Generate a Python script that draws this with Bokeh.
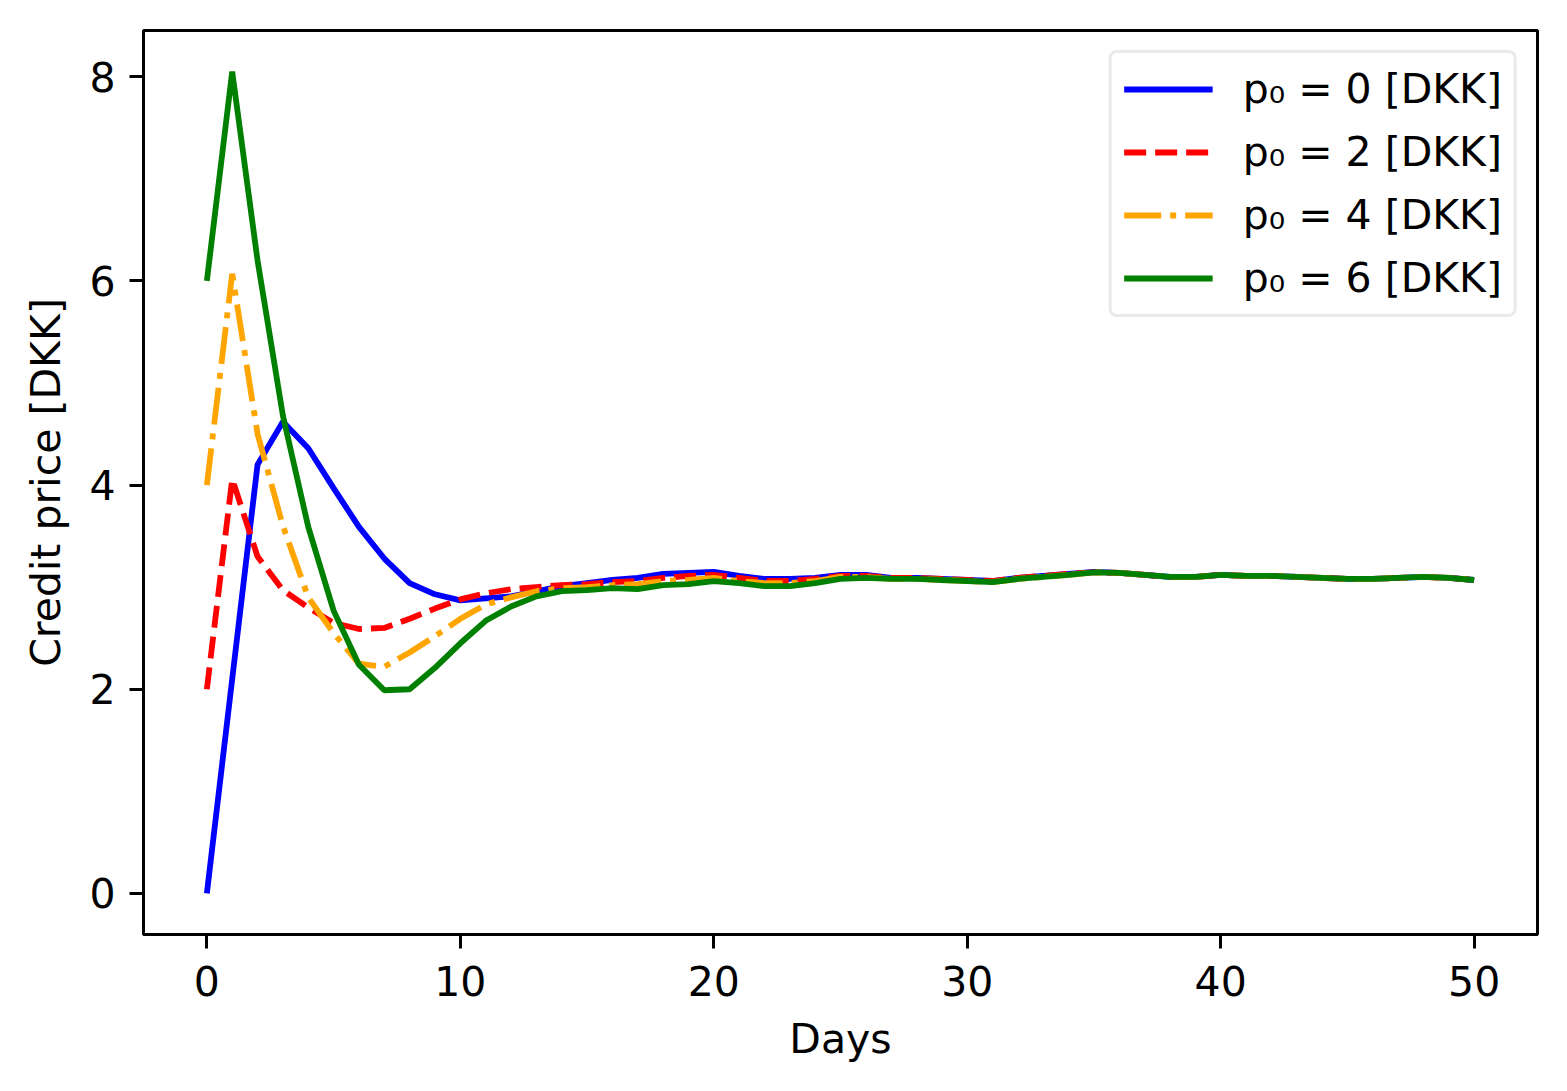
from bokeh.plotting import figure
from bokeh.models import Range1d, FixedTicker, Legend, LegendItem
from bokeh.embed import file_html
from bokeh.resources import INLINE

days = list(range(51))

price_p0_0 = [0.0, 2.1, 4.2, 4.62, 4.36, 3.97, 3.59, 3.28, 3.04, 2.93,
              2.87, 2.89, 2.91, 2.96, 3.01, 3.04, 3.07, 3.09, 3.13, 3.14,
              3.15, 3.11, 3.08, 3.08, 3.09, 3.12, 3.12, 3.09, 3.09, 3.08,
              3.07, 3.06, 3.09, 3.11, 3.13, 3.15, 3.14, 3.12, 3.10, 3.10,
              3.12, 3.11, 3.11, 3.10, 3.09, 3.08, 3.08, 3.09, 3.10, 3.09, 3.07]
price_p0_2 = [2.0, 4.06, 3.30, 2.97, 2.80, 2.65, 2.59, 2.60, 2.69, 2.79,
              2.88, 2.94, 2.98, 3.00, 3.02, 3.03, 3.05, 3.06, 3.09, 3.11,
              3.12, 3.09, 3.06, 3.06, 3.08, 3.11, 3.11, 3.09, 3.09, 3.08,
              3.07, 3.06, 3.09, 3.11, 3.13, 3.145, 3.14, 3.12, 3.10, 3.10,
              3.12, 3.11, 3.11, 3.10, 3.09, 3.08, 3.08, 3.09, 3.10, 3.09, 3.07]
price_p0_4 = [4.0, 6.07, 4.5, 3.6, 2.9, 2.55, 2.25, 2.22, 2.36, 2.52,
              2.69, 2.83, 2.90, 2.96, 2.99, 3.00, 3.02, 3.03, 3.06, 3.07,
              3.09, 3.06, 3.04, 3.04, 3.06, 3.10, 3.10, 3.08, 3.08, 3.07,
              3.06, 3.05, 3.08, 3.10, 3.12, 3.145, 3.14, 3.12, 3.10, 3.10,
              3.12, 3.11, 3.11, 3.10, 3.09, 3.08, 3.08, 3.09, 3.10, 3.09, 3.07]
price_p0_6 = [6.0, 8.05, 6.2, 4.68, 3.59, 2.77, 2.24, 1.99, 2.0, 2.21,
              2.45, 2.67, 2.81, 2.91, 2.96, 2.97, 2.99, 2.98, 3.02, 3.03,
              3.06, 3.04, 3.01, 3.01, 3.04, 3.08, 3.09, 3.08, 3.08, 3.07,
              3.06, 3.05, 3.08, 3.10, 3.12, 3.145, 3.14, 3.12, 3.10, 3.10,
              3.12, 3.11, 3.11, 3.10, 3.09, 3.08, 3.08, 3.09, 3.10, 3.09, 3.07]

labels = ["p\u2080 = 0 [DKK]", "p\u2080 = 2 [DKK]", "p\u2080 = 4 [DKK]", "p\u2080 = 6 [DKK]"]
x_ticks = [0, 10, 20, 30, 40, 50]
y_ticks = [0, 2, 4, 6, 8]

FONT = "DejaVu Sans"
FS = "41px"
LW = 5.8

p = figure(frame_width=1394, frame_height=904,
           min_border_left=143, min_border_right=22,
           min_border_top=30, min_border_bottom=149,
           output_backend="svg", toolbar_location=None,
           x_range=Range1d(-2.5, 52.5), y_range=Range1d(-0.4025, 8.4525))

r0 = p.line(days, price_p0_0, line_color="blue", line_width=LW)
r1 = p.line(days, price_p0_2, line_color="red", line_width=LW, line_dash="22 9")
r2 = p.line(days, price_p0_4, line_color="orange", line_width=LW, line_dash="37 9 6 9")
r3 = p.line(days, price_p0_6, line_color="green", line_width=LW)

p.xgrid.visible = False
p.ygrid.visible = False
p.outline_line_color = "black"
p.outline_line_width = 3
p.outline_line_alpha = 1.0
p.background_fill_color = "white"
p.border_fill_color = "white"

p.xaxis.ticker = FixedTicker(ticks=x_ticks)
p.yaxis.ticker = FixedTicker(ticks=y_ticks)
for ax in (p.xaxis[0], p.yaxis[0]):
    ax.axis_line_width = 3
    ax.major_tick_line_width = 3
    ax.major_tick_out = 14
    ax.major_tick_in = 0
    ax.minor_tick_line_color = None
    ax.major_label_text_font = FONT
    ax.major_label_text_font_size = FS
    ax.major_label_text_color = "black"
    ax.axis_label_text_font = FONT
    ax.axis_label_text_font_size = FS
    ax.axis_label_text_font_style = "normal"
    ax.axis_label_text_color = "black"

p.xaxis.axis_label = "Days"
p.yaxis.axis_label = "Credit price [DKK]"
p.xaxis.major_label_standoff = 17
p.yaxis.major_label_standoff = 14
p.xaxis.axis_label_standoff = 16
p.yaxis.axis_label_standoff = 16

legend = Legend(items=[LegendItem(label=labels[0], renderers=[r0]),
                       LegendItem(label=labels[1], renderers=[r1]),
                       LegendItem(label=labels[2], renderers=[r2]),
                       LegendItem(label=labels[3], renderers=[r3])],
                location="top_right")
legend.margin = 20
legend.padding = 12
legend.spacing = 15
legend.glyph_width = 89
legend.glyph_height = 40
legend.label_height = 40
legend.label_standoff = 30
legend.label_text_font = FONT
legend.label_text_font_size = FS
legend.label_text_color = "black"
legend.border_line_color = "#d5d5d5"
legend.border_line_width = 3
legend.background_fill_color = "white"
legend.background_fill_alpha = 0.8
if "border_radius" in legend.properties():
    legend.border_radius = 8
p.add_layout(legend, "center")

open("out.html", "w").write(file_html(p, INLINE))
